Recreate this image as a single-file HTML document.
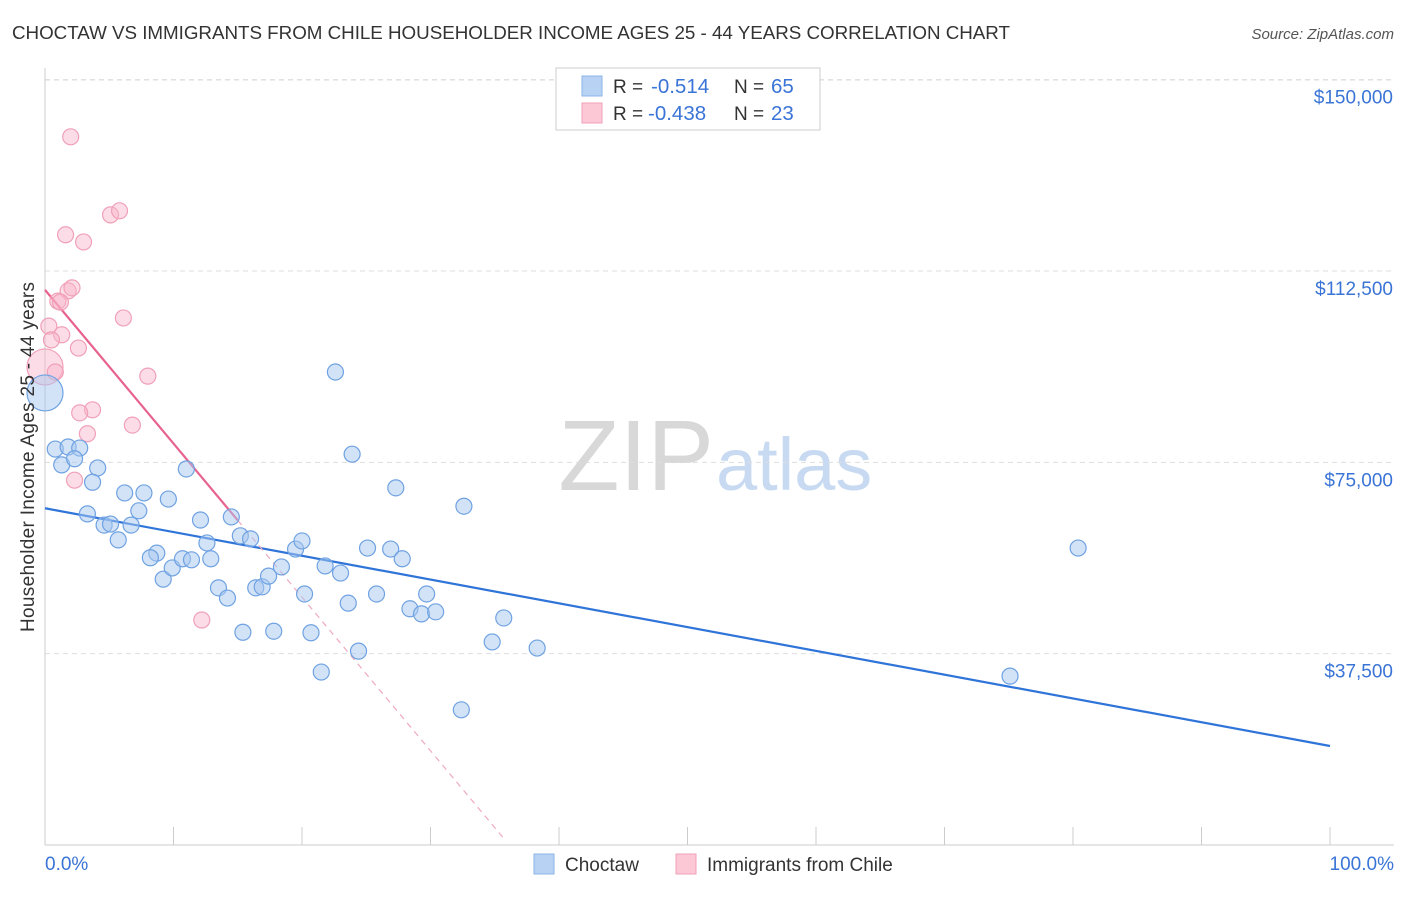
<!DOCTYPE html>
<html><head><meta charset="utf-8">
<style>
body{margin:0;background:#fff;font-family:"Liberation Sans",sans-serif;}
svg text{font-family:"Liberation Sans",sans-serif;}
</style></head>
<body>
<svg id="chart" width="1406" height="892" xmlns="http://www.w3.org/2000/svg">
<text x="12" y="39" font-size="18.8" fill="#333" textLength="998">CHOCTAW VS IMMIGRANTS FROM CHILE HOUSEHOLDER INCOME AGES 25 - 44 YEARS CORRELATION CHART</text>
<text x="1394" y="39" font-size="15" fill="#555" font-style="italic" text-anchor="end">Source: ZipAtlas.com</text>
<text x="714" y="490" font-size="100" fill="#d8d8d8" text-anchor="end" font-family="Liberation Serif">ZIP</text>
<text x="716" y="490" font-size="74" fill="#c8daf2">atlas</text>
<g id="grid"></g>
<g id="axes"></g>
<g id="lines"></g>
<g id="points"></g>
<text transform="translate(34,457) rotate(-90)" font-size="19" fill="#333" text-anchor="middle" textLength="350">Householder Income Ages 25 - 44 years</text>
<g>
<rect x="556" y="68" width="264" height="62" fill="#fff" stroke="#ccc"/>
<rect x="582" y="76" width="20" height="20" fill="#b8d2f4" stroke="#8ab4ea"/>
<text x="613" y="93" font-size="19" fill="#333">R = </text><text x="651" y="93" font-size="20.5" fill="#3a74d6">-0.514</text>
<text x="734" y="93" font-size="19" fill="#333">N = </text><text x="771" y="93" font-size="20.5" fill="#3a74d6">65</text>
<rect x="582" y="103" width="20" height="20" fill="#fcc8d6" stroke="#f0a0b8"/>
<text x="613" y="120" font-size="19" fill="#333">R = </text><text x="648" y="120" font-size="20.5" fill="#3a74d6">-0.438</text>
<text x="734" y="120" font-size="19" fill="#333">N = </text><text x="771" y="120" font-size="20.5" fill="#3a74d6">23</text>
</g>
<g>
<rect x="534" y="854" width="20" height="20" fill="#b8d2f4" stroke="#8ab4ea"/>
<text x="565" y="871" font-size="19" fill="#333">Choctaw</text>
<rect x="676" y="854" width="20" height="20" fill="#fcc8d6" stroke="#f0a0b8"/>
<text x="707" y="871" font-size="19" fill="#333">Immigrants from Chile</text>
</g>
</svg>
<script>
const xTicks=[0,10,20,30,40,50,60,70,80,90,100];
const yTicks=[37500,75000,112500,150000];
const yTickLabels=["$37,500","$75,000","$112,500","$150,000"];
const blueX=[0,0.8,1.8,2.7,1.3,2.3,4.1,3.7,3.3,4.6,5.1,5.7,6.2,7.3,7.7,6.7,9.6,11.0,8.7,8.2,9.2,9.9,10.7,11.4,12.1,12.6,12.9,13.5,14.2,14.5,15.2,15.4,16.0,16.4,16.9,17.4,17.8,18.4,19.5,20.0,20.2,20.7,21.5,21.8,22.6,23.0,23.6,23.9,24.4,25.1,25.8,26.9,27.3,27.8,28.4,29.3,29.7,30.4,32.4,32.6,34.8,35.7,38.3,75.1,80.4];
const blueY=[88.6,77.6,78.0,77.8,74.5,75.7,73.9,71.1,64.9,62.7,62.9,59.8,69.0,65.5,69.0,62.7,67.8,73.7,57.2,56.3,52.1,54.3,56.1,55.9,63.7,59.2,56.1,50.4,48.4,64.3,60.6,41.7,60.0,50.4,50.6,52.7,41.9,54.5,58.0,59.6,49.2,41.6,33.9,54.7,92.7,53.3,47.4,76.6,38.0,58.2,49.2,58.0,70.0,56.1,46.3,45.3,49.2,45.7,26.5,66.4,39.8,44.5,38.6,33.1,58.2];
const pinkX=[0,2.0,1.6,3.0,5.1,5.8,1.8,2.1,1.0,1.2,0.3,1.3,0.5,2.6,6.1,0.8,8.0,3.7,2.7,3.3,6.8,2.3,12.2];
const pinkY=[93.7,138.8,119.6,118.2,123.5,124.3,108.6,109.2,106.6,106.4,101.7,100.0,99.0,97.4,103.3,92.7,91.9,85.3,84.7,80.6,82.3,71.5,44.1];
const blueTrend=[66.0,19.4];
const pinkTrend=[108.8,1.0]; const pinkSolidEnd=15; const pinkDashEnd=35.8;

const NS="http://www.w3.org/2000/svg";
const X0=45,X1=1330,Y0=845,PXPER=191.33/37.5;
const sx=v=>X0+(X1-X0)*v/100;
const sy=v=>Y0-v*PXPER;
function mk(tag,attrs,parent){const e=document.createElementNS(NS,tag);for(const k in attrs)e.setAttribute(k,attrs[k]);document.getElementById(parent).appendChild(e);return e;}

yTicks.forEach((t,i)=>{
  const g=mk('line',{x1:X0,x2:1394,y1:sy(t/1000),y2:sy(t/1000),stroke:'#ddd','stroke-dasharray':'5,4'},'grid');
  
  
  const l=mk('text',{x:1393,y:sy(t/1000)+24,'font-size':19,fill:'#3a74d6','text-anchor':'end'},'axes');
  l.textContent=yTickLabels[i];
  
  
});
const topG=mk('line',{x1:X0,x2:1394,y1:80,y2:80,stroke:'#ddd','stroke-dasharray':'5,4'},'grid');


const ya=mk('line',{x1:X0,x2:X0,y1:68,y2:Y0,stroke:'#ccc'},'axes');


const xa=mk('line',{x1:X0,x2:1394,y1:Y0,y2:Y0,stroke:'#ccc'},'axes');


xTicks.forEach(t=>{
  const k=mk('line',{x1:sx(t),x2:sx(t),y1:Y0,y2:Y0-18,stroke:'#ccc'},'axes');
  
  
});
const xl0=mk('text',{x:45,y:870,'font-size':19,fill:'#3a74d6'},'axes');xl0.textContent='0.0%';


const xl1=mk('text',{x:1394,y:870,'font-size':19,fill:'#3a74d6','text-anchor':'end'},'axes');xl1.textContent='100.0%';



const bl=mk('line',{x1:sx(0),y1:sy(blueTrend[0]),x2:sx(100),y2:sy(blueTrend[1]),stroke:'#2f74d8','stroke-width':2.2},'lines');


const pf=x=>pinkTrend[0]+(pinkTrend[1]-pinkTrend[0])*x/pinkDashEnd;
const pl=mk('line',{x1:sx(0),y1:sy(pinkTrend[0]),x2:sx(pinkSolidEnd),y2:sy(pf(pinkSolidEnd)),stroke:'#e8628e','stroke-width':2.2},'lines');


const pd=mk('line',{x1:sx(pinkSolidEnd),y1:sy(pf(pinkSolidEnd)),x2:sx(pinkDashEnd),y2:sy(pinkTrend[1]),stroke:'#eeaac0','stroke-width':1.2,'stroke-dasharray':'6,5'},'lines');



pinkX.forEach((x,i)=>{
  const c=mk('circle',{cx:sx(x),cy:sy(pinkY[i]),r:i===0?18:8,fill:'rgba(248,180,202,0.45)',stroke:'#f0a0b8','stroke-width':1.2},'points');
  
  
});
blueX.forEach((x,i)=>{
  const c=mk('circle',{cx:sx(x),cy:sy(blueY[i]),r:i===0?18:8,fill:'rgba(168,200,240,0.5)',stroke:'#6fa2e2','stroke-width':1.2},'points');
  
  
});
</script>
</body></html>
